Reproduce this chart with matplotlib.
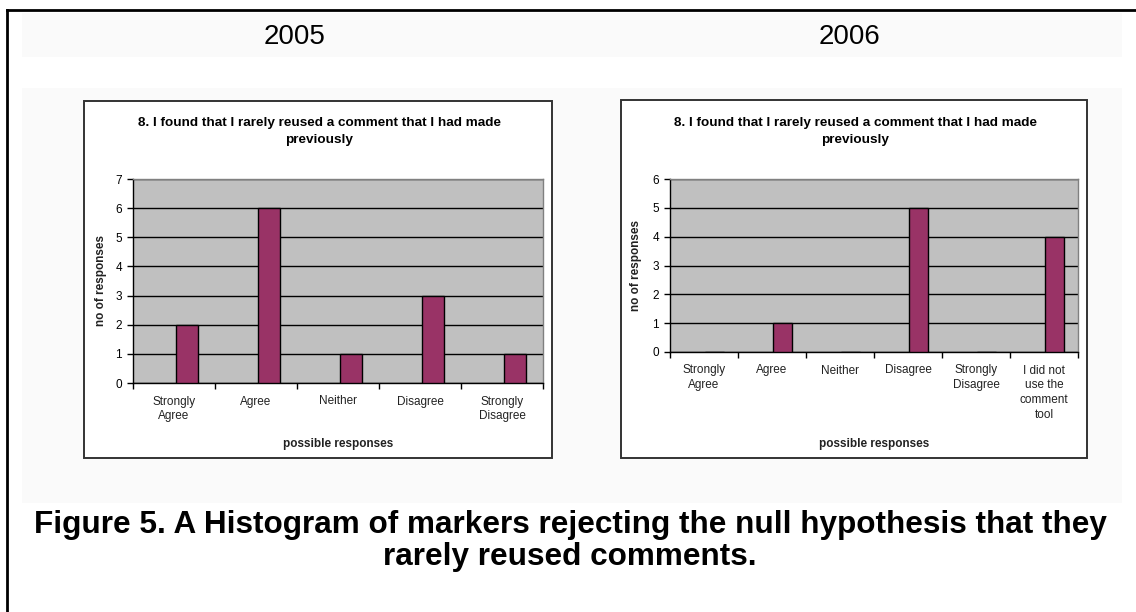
import matplotlib
matplotlib.use("Agg")
import matplotlib.pyplot as plt
from matplotlib.patches import Rectangle
from matplotlib.lines import Line2D
import numpy as np

plt.rcParams['font.family'] = ['Liberation Sans', 'DejaVu Sans']

# Survey data
question = "8. I found that I rarely reused a comment that I had made\npreviously"
years = ["2005", "2006"]
cats_2005 = ["Strongly\nAgree", "Agree", "Neither", "Disagree", "Strongly\nDisagree"]
vals_2005 = [2, 6, 1, 3, 1]
cats_2006 = ["Strongly\nAgree", "Agree", "Neither", "Disagree", "Strongly\nDisagree",
             "I did not\nuse the\ncomment\ntool"]
vals_2006 = [0, 1, 0, 5, 0, 4]
ymax_2005 = 7
ymax_2006 = 6
caption = ("Figure 5. A Histogram of markers rejecting the null hypothesis that they\n"
           "rarely reused comments.")

W, H = 1136, 612
fig = plt.figure(figsize=(W / 100, H / 100), dpi=100)
fig.patch.set_facecolor("white")


def fx(px):
    return px / W


def fy(py):
    return 1 - py / H


def box(x0, y0, x1, y1, **kw):
    r = Rectangle((fx(x0), fy(y1)), fx(x1 - x0), (y1 - y0) / H,
                  transform=fig.transFigure, **kw)
    fig.add_artist(r)


# faint page bands behind the headings and charts
box(22, 13, 1122, 57, facecolor="#fafafa", edgecolor="none", zorder=0)
box(22, 88, 1122, 503, facecolor="#fafafa", edgecolor="none", zorder=0)

# outer page frame (left and top edges)
fig.add_artist(Line2D([fx(7), fx(7)], [fy(10), 0], transform=fig.transFigure,
                      color="black", lw=2))
fig.add_artist(Line2D([fx(7), 1], [fy(10), fy(10)], transform=fig.transFigure,
                      color="black", lw=2))

# chart frames
box(84, 101, 552, 458, facecolor="white", edgecolor="#333333", lw=1.4, zorder=1)
box(621, 100, 1087, 458, facecolor="white", edgecolor="#333333", lw=1.4, zorder=1)

# year headings
fig.text(fx(295), fy(37), years[0], fontsize=20, ha="center", va="center")
fig.text(fx(850), fy(37), years[1], fontsize=20, ha="center", va="center")


def draw_chart(rect_px, cats, vals, ymax, title_x, ylab_dx, xlab_dy):
    x0, y0, x1, y1 = rect_px
    ax = fig.add_axes([fx(x0), fy(y1), fx(x1 - x0), (y1 - y0) / H], zorder=2)
    ax.set_facecolor("#c0c0c0")
    n = len(cats)
    pos = np.arange(n)
    ax.bar(pos + 0.02, vals, width=0.27, align="edge", color="#993366",
           edgecolor="black", linewidth=1.0, zorder=3)
    ax.set_xlim(-0.5, n - 0.5)
    ax.set_ylim(0, ymax)
    ax.set_yticks(range(ymax + 1))
    ax.yaxis.grid(True, color="black", linewidth=1.0, zorder=1)
    ax.set_axisbelow(True)
    ax.set_xticks(pos)
    ax.set_xticklabels(cats, fontsize=8.5, color="#222222", linespacing=1.3)
    ax.set_xticks(np.arange(n + 1) - 0.5, minor=True)
    ax.tick_params(axis="x", which="major", length=0, pad=9)
    ax.tick_params(axis="x", which="minor", length=4, width=1, direction="out")
    ax.tick_params(axis="y", length=4, width=1, labelsize=8.5, pad=4)
    for s in ("top", "right"):
        ax.spines[s].set_color("#808080")
        ax.spines[s].set_linewidth(1.0)
    for s in ("left", "bottom"):
        ax.spines[s].set_color("black")
        ax.spines[s].set_linewidth(1.0)
    ax.set_ylabel("no of responses", fontsize=8.5, fontweight="bold", color="#222222")
    ax.yaxis.set_label_coords(ylab_dx / (x1 - x0), 0.5)
    ax.set_xlabel("possible responses", fontsize=8.5, fontweight="bold", color="#222222")
    ax.xaxis.set_label_coords(0.5, -xlab_dy / (y1 - y0))
    fig.text(fx(title_x), fy(131.5), question, fontsize=9.7, fontweight="bold",
             ha="center", va="center", linespacing=1.45, zorder=3)
    return ax


draw_chart((133, 179, 543, 383), cats_2005, vals_2005, ymax_2005, 319, -26, 55)
draw_chart((670, 179, 1078, 352), cats_2006, vals_2006, ymax_2006, 855, -28, 86)

fig.text(fx(570), fy(541), caption, fontsize=22.7, fontweight="bold", ha="center",
         va="center", linespacing=1.05)

fig.savefig("out.png", dpi=100)
